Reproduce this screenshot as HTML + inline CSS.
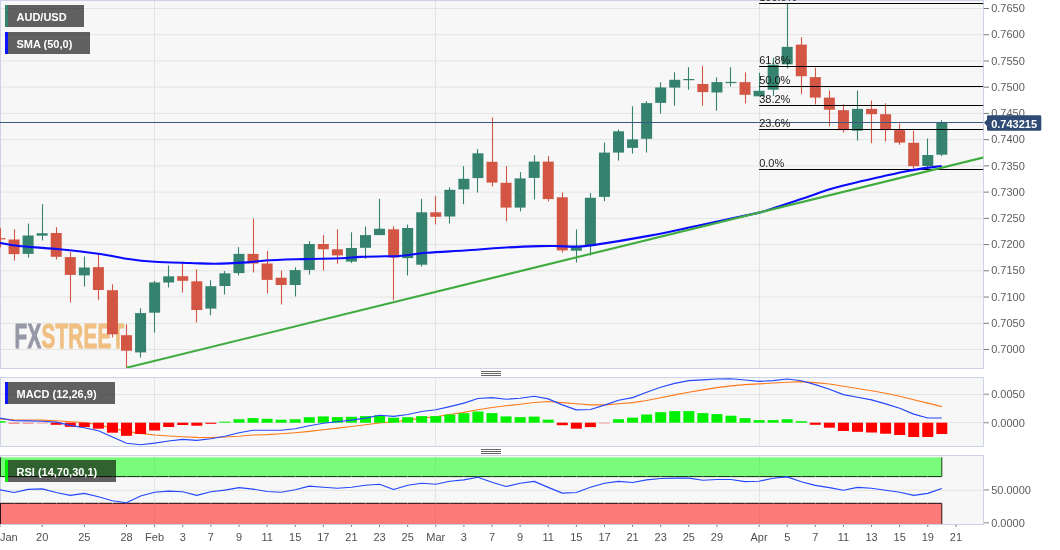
<!DOCTYPE html>
<html lang="en"><head><meta charset="utf-8"><title>AUD/USD daily chart</title>
<style>
html,body{margin:0;padding:0;background:#fff;}
body{width:1060px;height:550px;overflow:hidden;font-family:"Liberation Sans",Arial,sans-serif;}
svg{display:block;}
</style></head><body>
<svg width="1060" height="550" viewBox="0 0 1060 550" font-family="'Liberation Sans', Arial, sans-serif">
<rect width="1060" height="550" fill="#fff"/>
<defs><clipPath id="cm"><rect x="0" y="0" width="983.2" height="368.3"/></clipPath><clipPath id="cd"><rect x="0" y="377" width="984" height="70"/></clipPath><clipPath id="cr"><rect x="0" y="456" width="983" height="68"/></clipPath></defs>
<rect x="0" y="0" width="984" height="369" fill="#cdd3e5"/>
<rect x="1" y="1" width="982" height="367" fill="#f7f7f7"/>
<rect x="0" y="377" width="984" height="70" fill="#cdd3e5"/>
<rect x="1" y="378" width="982" height="68" fill="#f7f7f7"/>
<rect x="0" y="455" width="984" height="70" fill="#cdd3e5"/>
<rect x="1" y="456" width="982" height="68" fill="#f7f7f7"/>
<g stroke="#e4e4e4" stroke-width="1">
<line x1="1" x2="983" y1="8.50" y2="8.50"/>
<line x1="1" x2="983" y1="34.73" y2="34.73"/>
<line x1="1" x2="983" y1="60.96" y2="60.96"/>
<line x1="1" x2="983" y1="87.19" y2="87.19"/>
<line x1="1" x2="983" y1="113.42" y2="113.42"/>
<line x1="1" x2="983" y1="139.65" y2="139.65"/>
<line x1="1" x2="983" y1="165.88" y2="165.88"/>
<line x1="1" x2="983" y1="192.11" y2="192.11"/>
<line x1="1" x2="983" y1="218.34" y2="218.34"/>
<line x1="1" x2="983" y1="244.57" y2="244.57"/>
<line x1="1" x2="983" y1="270.80" y2="270.80"/>
<line x1="1" x2="983" y1="297.03" y2="297.03"/>
<line x1="1" x2="983" y1="323.26" y2="323.26"/>
<line x1="1" x2="983" y1="349.49" y2="349.49"/>
<line x1="1" x2="983" y1="394.5" y2="394.5"/>
<line x1="1" x2="983" y1="422.5" y2="422.5"/>
<line x1="1" x2="983" y1="490.3" y2="490.3"/>
<line x1="154.50" x2="154.50" y1="1" y2="368"/>
<line x1="154.50" x2="154.50" y1="378" y2="446"/>
<line x1="154.50" x2="154.50" y1="456" y2="524"/>
<line x1="435.50" x2="435.50" y1="1" y2="368"/>
<line x1="435.50" x2="435.50" y1="378" y2="446"/>
<line x1="435.50" x2="435.50" y1="456" y2="524"/>
<line x1="759.50" x2="759.50" y1="1" y2="368"/>
<line x1="759.50" x2="759.50" y1="378" y2="446"/>
<line x1="759.50" x2="759.50" y1="456" y2="524"/>
</g>
<g font-weight="bold" font-size="35.6" stroke-width="1.0" stroke-linejoin="round"><text transform="translate(14.6,347.5) scale(0.581,1)" letter-spacing="0.35"><tspan fill="#9698a5" stroke="#9698a5">FX</tspan><tspan fill="#f0bf82" stroke="#f0bf82">STREET</tspan></text></g>
<g clip-path="url(#cm)">
<line x1="0.50" x2="0.50" y1="228.2" y2="247.5" stroke="#d35645" stroke-width="1.1"/>
<rect x="-5.50" y="238.2" width="11" height="1.2" fill="#d35645"/>
<line x1="14.50" x2="14.50" y1="229.2" y2="260.4" stroke="#d35645" stroke-width="1.1"/>
<rect x="8.56" y="239.5" width="11" height="14.6" fill="#d35645"/>
<line x1="28.50" x2="28.50" y1="223.5" y2="257.4" stroke="#35836f" stroke-width="1.1"/>
<rect x="22.61" y="235.5" width="11" height="18.4" fill="#35836f"/>
<line x1="42.50" x2="42.50" y1="204.2" y2="240.5" stroke="#35836f" stroke-width="1.1"/>
<rect x="36.67" y="233.2" width="11" height="2.5" fill="#35836f"/>
<line x1="56.50" x2="56.50" y1="227.2" y2="259.5" stroke="#d35645" stroke-width="1.1"/>
<rect x="50.73" y="233.0" width="11" height="23.8" fill="#d35645"/>
<line x1="70.50" x2="70.50" y1="252.0" y2="302.5" stroke="#d35645" stroke-width="1.1"/>
<rect x="64.79" y="257.1" width="11" height="17.8" fill="#d35645"/>
<line x1="84.50" x2="84.50" y1="256.5" y2="286.4" stroke="#35836f" stroke-width="1.1"/>
<rect x="78.84" y="267.5" width="11" height="7.9" fill="#35836f"/>
<line x1="98.50" x2="98.50" y1="254.3" y2="299.9" stroke="#d35645" stroke-width="1.1"/>
<rect x="92.90" y="267.1" width="11" height="22.9" fill="#d35645"/>
<line x1="112.50" x2="112.50" y1="284.2" y2="337.5" stroke="#d35645" stroke-width="1.1"/>
<rect x="106.96" y="290.2" width="11" height="44.1" fill="#d35645"/>
<line x1="126.50" x2="126.50" y1="324.3" y2="367.7" stroke="#d35645" stroke-width="1.1"/>
<rect x="121.01" y="335.2" width="11" height="15.5" fill="#d35645"/>
<line x1="140.50" x2="140.50" y1="308.2" y2="357.5" stroke="#35836f" stroke-width="1.1"/>
<rect x="135.07" y="313.1" width="11" height="39.3" fill="#35836f"/>
<line x1="154.50" x2="154.50" y1="281.0" y2="332.4" stroke="#35836f" stroke-width="1.1"/>
<rect x="149.13" y="282.4" width="11" height="30.3" fill="#35836f"/>
<line x1="168.50" x2="168.50" y1="265.6" y2="287.5" stroke="#35836f" stroke-width="1.1"/>
<rect x="163.19" y="276.3" width="11" height="6.2" fill="#35836f"/>
<line x1="182.50" x2="182.50" y1="261.5" y2="292.4" stroke="#d35645" stroke-width="1.1"/>
<rect x="177.24" y="276.2" width="11" height="4.6" fill="#d35645"/>
<line x1="196.50" x2="196.50" y1="269.3" y2="322.5" stroke="#d35645" stroke-width="1.1"/>
<rect x="191.30" y="281.3" width="11" height="28.7" fill="#d35645"/>
<line x1="210.50" x2="210.50" y1="280.3" y2="315.3" stroke="#35836f" stroke-width="1.1"/>
<rect x="205.36" y="286.2" width="11" height="22.4" fill="#35836f"/>
<line x1="224.50" x2="224.50" y1="270.9" y2="294.5" stroke="#35836f" stroke-width="1.1"/>
<rect x="219.42" y="273.3" width="11" height="12.7" fill="#35836f"/>
<line x1="238.50" x2="238.50" y1="247.2" y2="275.6" stroke="#35836f" stroke-width="1.1"/>
<rect x="233.47" y="253.9" width="11" height="19.2" fill="#35836f"/>
<line x1="253.50" x2="253.50" y1="218.5" y2="272.4" stroke="#d35645" stroke-width="1.1"/>
<rect x="247.53" y="253.9" width="11" height="9.6" fill="#d35645"/>
<line x1="267.50" x2="267.50" y1="251.0" y2="293.6" stroke="#d35645" stroke-width="1.1"/>
<rect x="261.59" y="263.5" width="11" height="16.4" fill="#d35645"/>
<line x1="281.50" x2="281.50" y1="270.5" y2="304.5" stroke="#d35645" stroke-width="1.1"/>
<rect x="275.64" y="277.7" width="11" height="7.3" fill="#d35645"/>
<line x1="295.50" x2="295.50" y1="267.3" y2="296.4" stroke="#35836f" stroke-width="1.1"/>
<rect x="289.70" y="270.1" width="11" height="14.9" fill="#35836f"/>
<line x1="309.50" x2="309.50" y1="241.2" y2="274.6" stroke="#35836f" stroke-width="1.1"/>
<rect x="303.76" y="244.0" width="11" height="25.9" fill="#35836f"/>
<line x1="323.50" x2="323.50" y1="235.1" y2="270.5" stroke="#d35645" stroke-width="1.1"/>
<rect x="317.82" y="244.0" width="11" height="5.3" fill="#d35645"/>
<line x1="337.50" x2="337.50" y1="229.3" y2="263.7" stroke="#d35645" stroke-width="1.1"/>
<rect x="331.87" y="249.3" width="11" height="6.1" fill="#d35645"/>
<line x1="351.50" x2="351.50" y1="232.3" y2="262.9" stroke="#35836f" stroke-width="1.1"/>
<rect x="345.93" y="248.0" width="11" height="13.6" fill="#35836f"/>
<line x1="365.50" x2="365.50" y1="226.4" y2="258.8" stroke="#35836f" stroke-width="1.1"/>
<rect x="359.99" y="235.1" width="11" height="12.7" fill="#35836f"/>
<line x1="379.50" x2="379.50" y1="198.9" y2="235.1" stroke="#35836f" stroke-width="1.1"/>
<rect x="374.04" y="228.7" width="11" height="6.4" fill="#35836f"/>
<line x1="393.50" x2="393.50" y1="226.3" y2="300.3" stroke="#d35645" stroke-width="1.1"/>
<rect x="388.10" y="229.3" width="11" height="28.2" fill="#d35645"/>
<line x1="407.50" x2="407.50" y1="224.6" y2="275.4" stroke="#35836f" stroke-width="1.1"/>
<rect x="402.16" y="228.0" width="11" height="30.1" fill="#35836f"/>
<line x1="421.50" x2="421.50" y1="198.9" y2="266.6" stroke="#35836f" stroke-width="1.1"/>
<rect x="416.22" y="212.3" width="11" height="52.4" fill="#35836f"/>
<line x1="435.50" x2="435.50" y1="196.1" y2="224.4" stroke="#d35645" stroke-width="1.1"/>
<rect x="430.27" y="212.3" width="11" height="4.5" fill="#d35645"/>
<line x1="449.50" x2="449.50" y1="187.3" y2="223.6" stroke="#35836f" stroke-width="1.1"/>
<rect x="444.33" y="189.8" width="11" height="26.7" fill="#35836f"/>
<line x1="463.50" x2="463.50" y1="166.2" y2="204.2" stroke="#35836f" stroke-width="1.1"/>
<rect x="458.39" y="178.8" width="11" height="10.6" fill="#35836f"/>
<line x1="477.50" x2="477.50" y1="149.1" y2="192.5" stroke="#35836f" stroke-width="1.1"/>
<rect x="472.44" y="153.3" width="11" height="24.8" fill="#35836f"/>
<line x1="492.50" x2="492.50" y1="117.4" y2="186.6" stroke="#d35645" stroke-width="1.1"/>
<rect x="486.50" y="161.8" width="11" height="20.8" fill="#d35645"/>
<line x1="506.50" x2="506.50" y1="166.2" y2="221.2" stroke="#d35645" stroke-width="1.1"/>
<rect x="500.56" y="182.8" width="11" height="24.8" fill="#d35645"/>
<line x1="520.50" x2="520.50" y1="172.2" y2="211.4" stroke="#35836f" stroke-width="1.1"/>
<rect x="514.62" y="178.4" width="11" height="29.2" fill="#35836f"/>
<line x1="534.50" x2="534.50" y1="155.2" y2="199.4" stroke="#35836f" stroke-width="1.1"/>
<rect x="528.67" y="161.6" width="11" height="16.3" fill="#35836f"/>
<line x1="548.50" x2="548.50" y1="156.1" y2="201.4" stroke="#d35645" stroke-width="1.1"/>
<rect x="542.73" y="161.6" width="11" height="37.5" fill="#d35645"/>
<line x1="562.50" x2="562.50" y1="192.4" y2="252.5" stroke="#d35645" stroke-width="1.1"/>
<rect x="556.79" y="197.3" width="11" height="53.1" fill="#d35645"/>
<line x1="576.50" x2="576.50" y1="229.4" y2="262.6" stroke="#35836f" stroke-width="1.1"/>
<rect x="570.85" y="247.0" width="11" height="3.7" fill="#35836f"/>
<line x1="590.50" x2="590.50" y1="193.1" y2="255.5" stroke="#35836f" stroke-width="1.1"/>
<rect x="584.90" y="197.8" width="11" height="48.2" fill="#35836f"/>
<line x1="604.50" x2="604.50" y1="142.6" y2="201.2" stroke="#35836f" stroke-width="1.1"/>
<rect x="598.96" y="152.6" width="11" height="44.3" fill="#35836f"/>
<line x1="618.50" x2="618.50" y1="129.4" y2="160.6" stroke="#35836f" stroke-width="1.1"/>
<rect x="613.02" y="131.3" width="11" height="21.3" fill="#35836f"/>
<line x1="632.50" x2="632.50" y1="106.3" y2="153.6" stroke="#35836f" stroke-width="1.1"/>
<rect x="627.07" y="139.4" width="11" height="8.5" fill="#35836f"/>
<line x1="646.50" x2="646.50" y1="101.0" y2="152.6" stroke="#35836f" stroke-width="1.1"/>
<rect x="641.13" y="103.1" width="11" height="35.7" fill="#35836f"/>
<line x1="660.50" x2="660.50" y1="82.3" y2="113.5" stroke="#35836f" stroke-width="1.1"/>
<rect x="655.19" y="87.4" width="11" height="15.5" fill="#35836f"/>
<line x1="674.50" x2="674.50" y1="72.3" y2="105.7" stroke="#35836f" stroke-width="1.1"/>
<rect x="669.25" y="79.8" width="11" height="7.8" fill="#35836f"/>
<line x1="688.50" x2="688.50" y1="67.2" y2="89.7" stroke="#35836f" stroke-width="1.1"/>
<rect x="683.30" y="79.0" width="11" height="1.2" fill="#35836f"/>
<line x1="702.50" x2="702.50" y1="65.7" y2="105.7" stroke="#d35645" stroke-width="1.1"/>
<rect x="697.36" y="84.0" width="11" height="8.1" fill="#d35645"/>
<line x1="716.50" x2="716.50" y1="77.4" y2="110.7" stroke="#35836f" stroke-width="1.1"/>
<rect x="711.42" y="82.1" width="11" height="10.4" fill="#35836f"/>
<line x1="730.50" x2="730.50" y1="67.2" y2="86.5" stroke="#35836f" stroke-width="1.1"/>
<rect x="725.47" y="81.9" width="11" height="1.2" fill="#35836f"/>
<line x1="745.50" x2="745.50" y1="72.3" y2="103.5" stroke="#d35645" stroke-width="1.1"/>
<rect x="739.53" y="82.1" width="11" height="12.7" fill="#d35645"/>
<line x1="759.50" x2="759.50" y1="72.8" y2="96.3" stroke="#35836f" stroke-width="1.1"/>
<rect x="753.59" y="90.8" width="11" height="5.5" fill="#35836f"/>
<line x1="773.50" x2="773.50" y1="57.7" y2="96.0" stroke="#35836f" stroke-width="1.1"/>
<rect x="767.65" y="64.7" width="11" height="25.0" fill="#35836f"/>
<line x1="787.50" x2="787.50" y1="3.4" y2="68.4" stroke="#35836f" stroke-width="1.1"/>
<rect x="781.70" y="46.9" width="11" height="17.4" fill="#35836f"/>
<line x1="801.50" x2="801.50" y1="37.2" y2="94.2" stroke="#d35645" stroke-width="1.1"/>
<rect x="795.76" y="44.6" width="11" height="31.6" fill="#d35645"/>
<line x1="815.50" x2="815.50" y1="67.7" y2="104.6" stroke="#d35645" stroke-width="1.1"/>
<rect x="809.82" y="77.1" width="11" height="20.5" fill="#d35645"/>
<line x1="829.50" x2="829.50" y1="90.4" y2="126.3" stroke="#d35645" stroke-width="1.1"/>
<rect x="823.87" y="97.6" width="11" height="12.1" fill="#d35645"/>
<line x1="843.50" x2="843.50" y1="104.2" y2="132.4" stroke="#d35645" stroke-width="1.1"/>
<rect x="837.93" y="110.2" width="11" height="19.9" fill="#d35645"/>
<line x1="857.50" x2="857.50" y1="90.4" y2="140.5" stroke="#35836f" stroke-width="1.1"/>
<rect x="851.99" y="108.9" width="11" height="21.8" fill="#35836f"/>
<line x1="871.50" x2="871.50" y1="100.4" y2="143.3" stroke="#d35645" stroke-width="1.1"/>
<rect x="866.05" y="108.9" width="11" height="5.3" fill="#d35645"/>
<line x1="885.50" x2="885.50" y1="103.3" y2="141.4" stroke="#d35645" stroke-width="1.1"/>
<rect x="880.10" y="114.2" width="11" height="15.9" fill="#d35645"/>
<line x1="899.50" x2="899.50" y1="123.5" y2="144.7" stroke="#d35645" stroke-width="1.1"/>
<rect x="894.16" y="130.1" width="11" height="12.5" fill="#d35645"/>
<line x1="913.50" x2="913.50" y1="130.5" y2="169.0" stroke="#d35645" stroke-width="1.1"/>
<rect x="908.22" y="142.8" width="11" height="23.4" fill="#d35645"/>
<line x1="927.50" x2="927.50" y1="138.6" y2="168.5" stroke="#35836f" stroke-width="1.1"/>
<rect x="922.28" y="155.0" width="11" height="11.0" fill="#35836f"/>
<line x1="941.50" x2="941.50" y1="120.3" y2="156.0" stroke="#35836f" stroke-width="1.1"/>
<rect x="936.33" y="123.0" width="11" height="31.7" fill="#35836f"/>
<line x1="0" x2="984" y1="122.5" y2="122.5" stroke="#3b5880" stroke-width="1.2"/>
<line x1="759.2" x2="984" y1="3.5" y2="3.5" stroke="#000" stroke-width="1.1"/>
<text x="759.2" y="0.8" font-size="11" fill="#1a1a1a">100.0%</text>
<line x1="759.2" x2="984" y1="66.5" y2="66.5" stroke="#000" stroke-width="1.1"/>
<text x="759.2" y="63.8" font-size="11" fill="#1a1a1a">61.8%</text>
<line x1="759.2" x2="984" y1="86.5" y2="86.5" stroke="#000" stroke-width="1.1"/>
<text x="759.2" y="83.8" font-size="11" fill="#1a1a1a">50.0%</text>
<line x1="759.2" x2="984" y1="105.5" y2="105.5" stroke="#000" stroke-width="1.1"/>
<text x="759.2" y="102.8" font-size="11" fill="#1a1a1a">38.2%</text>
<line x1="759.2" x2="984" y1="129.5" y2="129.5" stroke="#000" stroke-width="1.1"/>
<text x="759.2" y="126.8" font-size="11" fill="#1a1a1a">23.6%</text>
<line x1="759.2" x2="984" y1="169.5" y2="169.5" stroke="#000" stroke-width="1.1"/>
<text x="759.2" y="166.8" font-size="11" fill="#1a1a1a">0.0%</text>
<path d="M0.0,242.9 C3.1,243.4 9.4,245.0 18.9,246.0 C28.4,247.0 43.5,247.7 56.7,249.0 C69.9,250.3 86.3,252.0 98.3,253.7 C110.3,255.4 119.1,257.6 128.5,259.0 C137.9,260.4 144.3,261.1 154.6,261.8 C164.8,262.5 179.9,262.7 190.0,263.0 C200.1,263.3 205.5,263.9 215.0,263.8 C224.5,263.7 238.6,262.9 247.0,262.4 C255.4,261.8 256.3,261.1 265.6,260.5 C274.9,259.9 290.4,259.5 303.0,259.1 C315.6,258.7 331.5,258.6 341.0,258.2 C350.5,257.8 352.7,257.2 360.0,256.9 C367.3,256.6 378.3,256.4 385.0,256.3 C391.7,256.2 393.1,256.6 400.0,256.0 C406.9,255.4 415.9,253.7 426.7,252.8 C437.4,251.9 451.9,251.3 464.5,250.5 C477.1,249.7 489.4,248.4 502.0,247.7 C514.6,247.0 530.7,246.4 540.0,246.1 C549.3,245.8 552.0,246.0 558.0,246.1 C564.0,246.2 570.2,246.8 576.0,246.6 C581.8,246.4 580.7,246.9 593.0,245.1 C605.3,243.3 632.2,238.9 650.0,235.6 C667.8,232.3 682.2,228.9 700.0,225.2 C717.8,221.4 745.5,215.7 757.0,213.1 C768.5,210.5 763.8,211.3 768.9,209.7 C774.0,208.1 781.5,205.6 787.8,203.5 C794.1,201.4 800.4,199.5 806.7,197.3 C813.0,195.2 819.3,192.6 825.6,190.6 C831.9,188.6 838.2,186.9 844.5,185.3 C850.8,183.7 857.1,182.3 863.4,180.8 C869.7,179.3 876.0,177.9 882.3,176.5 C888.6,175.1 894.9,173.6 901.2,172.3 C907.5,171.0 913.3,170.0 920.1,168.9 C926.9,167.8 938.2,166.5 941.8,166.0" fill="none" stroke="#0a0aff" stroke-width="2.1" stroke-linejoin="round"/>
<line x1="126.5" y1="367.8" x2="984" y2="157.3" stroke="#40ac40" stroke-width="2.1"/>
</g>
<g clip-path="url(#cd)">
<polyline points="0.0,418.8 14.1,419.9 28.1,420.0 42.2,420.1 56.2,420.8 70.3,421.7 84.3,422.5 98.4,424.8 112.5,428.1 126.5,431.4 140.6,433.4 154.6,435.0 168.7,436.0 182.7,436.7 196.8,437.4 210.9,437.6 224.9,437.0 239.0,436.3 253.0,435.0 267.1,434.6 281.1,433.8 295.2,432.7 309.3,431.4 323.3,429.8 337.4,428.1 351.4,426.5 365.5,424.8 379.5,423.0 393.6,421.7 407.7,420.1 421.7,418.1 435.8,416.8 449.8,414.5 463.9,412.4 477.9,409.8 492.0,407.5 506.1,405.8 520.1,404.2 534.2,402.5 548.2,401.5 562.3,402.6 576.3,403.8 590.4,404.9 604.5,404.9 618.5,403.8 632.6,402.6 646.6,400.5 660.7,397.8 674.7,394.9 688.8,392.3 702.9,389.9 716.9,387.6 731.0,385.9 745.0,384.6 759.1,383.9 773.1,383.0 787.2,382.2 801.3,381.6 815.3,382.6 829.4,384.0 843.4,386.3 857.5,388.5 871.5,390.7 885.6,393.2 899.7,396.2 913.7,399.8 927.8,403.1 941.8,406.6" fill="none" stroke="#ff7a1a" stroke-width="1.15" stroke-linejoin="round"/>
<rect x="-5.50" y="421.2" width="11" height="1.5" fill="#00f000" opacity="1"/>
<rect x="8.56" y="422.7" width="11" height="1.0" fill="#ff0000" opacity="0.6"/>
<rect x="22.61" y="422.7" width="11" height="1.0" fill="#ff0000" opacity="0.5"/>
<rect x="36.67" y="422.7" width="11" height="1.0" fill="#ff0000" opacity="0.3"/>
<rect x="50.73" y="422.7" width="11" height="2.1" fill="#ff0000" opacity="1"/>
<rect x="64.79" y="422.7" width="11" height="4.1" fill="#ff0000" opacity="1"/>
<rect x="78.84" y="422.7" width="11" height="4.4" fill="#ff0000" opacity="1"/>
<rect x="92.90" y="422.7" width="11" height="6.0" fill="#ff0000" opacity="1"/>
<rect x="106.96" y="422.7" width="11" height="10.0" fill="#ff0000" opacity="1"/>
<rect x="121.01" y="422.7" width="11" height="13.1" fill="#ff0000" opacity="1"/>
<rect x="135.07" y="422.7" width="11" height="11.3" fill="#ff0000" opacity="1"/>
<rect x="149.13" y="422.7" width="11" height="7.8" fill="#ff0000" opacity="1"/>
<rect x="163.19" y="422.7" width="11" height="4.3" fill="#ff0000" opacity="1"/>
<rect x="177.24" y="422.7" width="11" height="2.3" fill="#ff0000" opacity="1"/>
<rect x="191.30" y="422.7" width="11" height="3.0" fill="#ff0000" opacity="1"/>
<rect x="205.36" y="422.7" width="11" height="1.1" fill="#ff0000" opacity="1"/>
<rect x="219.42" y="421.7" width="11" height="1.0" fill="#00f000" opacity="1"/>
<rect x="233.47" y="419.2" width="11" height="3.5" fill="#00f000" opacity="1"/>
<rect x="247.53" y="418.1" width="11" height="4.6" fill="#00f000" opacity="1"/>
<rect x="261.59" y="418.8" width="11" height="3.9" fill="#00f000" opacity="1"/>
<rect x="275.64" y="419.7" width="11" height="3.0" fill="#00f000" opacity="1"/>
<rect x="289.70" y="419.2" width="11" height="3.5" fill="#00f000" opacity="1"/>
<rect x="303.76" y="417.2" width="11" height="5.5" fill="#00f000" opacity="1"/>
<rect x="317.82" y="416.4" width="11" height="6.3" fill="#00f000" opacity="1"/>
<rect x="331.87" y="417.1" width="11" height="5.6" fill="#00f000" opacity="1"/>
<rect x="345.93" y="416.8" width="11" height="5.9" fill="#00f000" opacity="1"/>
<rect x="359.99" y="416.1" width="11" height="6.6" fill="#00f000" opacity="1"/>
<rect x="374.04" y="415.5" width="11" height="7.2" fill="#00f000" opacity="1"/>
<rect x="388.10" y="417.7" width="11" height="5.0" fill="#00f000" opacity="1"/>
<rect x="402.16" y="417.2" width="11" height="5.5" fill="#00f000" opacity="1"/>
<rect x="416.22" y="416.1" width="11" height="6.6" fill="#00f000" opacity="1"/>
<rect x="430.27" y="416.1" width="11" height="6.6" fill="#00f000" opacity="1"/>
<rect x="444.33" y="414.5" width="11" height="8.2" fill="#00f000" opacity="1"/>
<rect x="458.39" y="413.2" width="11" height="9.5" fill="#00f000" opacity="1"/>
<rect x="472.44" y="411.5" width="11" height="11.2" fill="#00f000" opacity="1"/>
<rect x="486.50" y="413.1" width="11" height="9.6" fill="#00f000" opacity="1"/>
<rect x="500.56" y="416.4" width="11" height="6.3" fill="#00f000" opacity="1"/>
<rect x="514.62" y="417.1" width="11" height="5.6" fill="#00f000" opacity="1"/>
<rect x="528.67" y="416.6" width="11" height="6.1" fill="#00f000" opacity="1"/>
<rect x="542.73" y="419.7" width="11" height="3.0" fill="#00f000" opacity="1"/>
<rect x="556.79" y="422.7" width="11" height="2.5" fill="#ff0000" opacity="1"/>
<rect x="570.85" y="422.7" width="11" height="6.0" fill="#ff0000" opacity="1"/>
<rect x="584.90" y="422.7" width="11" height="4.4" fill="#ff0000" opacity="1"/>
<rect x="598.96" y="422.7" width="11" height="1.0" fill="#ff0000" opacity="0.3"/>
<rect x="613.02" y="419.2" width="11" height="3.5" fill="#00f000" opacity="1"/>
<rect x="627.07" y="417.7" width="11" height="5.0" fill="#00f000" opacity="1"/>
<rect x="641.13" y="414.5" width="11" height="8.2" fill="#00f000" opacity="1"/>
<rect x="655.19" y="412.2" width="11" height="10.5" fill="#00f000" opacity="1"/>
<rect x="669.25" y="411.1" width="11" height="11.6" fill="#00f000" opacity="1"/>
<rect x="683.30" y="411.1" width="11" height="11.6" fill="#00f000" opacity="1"/>
<rect x="697.36" y="413.1" width="11" height="9.6" fill="#00f000" opacity="1"/>
<rect x="711.42" y="414.1" width="11" height="8.6" fill="#00f000" opacity="1"/>
<rect x="725.47" y="415.7" width="11" height="7.0" fill="#00f000" opacity="1"/>
<rect x="739.53" y="418.1" width="11" height="4.6" fill="#00f000" opacity="1"/>
<rect x="753.59" y="420.1" width="11" height="2.6" fill="#00f000" opacity="1"/>
<rect x="767.65" y="420.1" width="11" height="2.6" fill="#00f000" opacity="1"/>
<rect x="781.70" y="419.2" width="11" height="3.5" fill="#00f000" opacity="1"/>
<rect x="795.76" y="421.2" width="11" height="1.5" fill="#00f000" opacity="1"/>
<rect x="809.82" y="422.7" width="11" height="2.1" fill="#ff0000" opacity="1"/>
<rect x="823.87" y="422.7" width="11" height="5.0" fill="#ff0000" opacity="1"/>
<rect x="837.93" y="422.7" width="11" height="8.3" fill="#ff0000" opacity="1"/>
<rect x="851.99" y="422.7" width="11" height="9.1" fill="#ff0000" opacity="1"/>
<rect x="866.05" y="422.7" width="11" height="9.8" fill="#ff0000" opacity="1"/>
<rect x="880.10" y="422.7" width="11" height="11.0" fill="#ff0000" opacity="1"/>
<rect x="894.16" y="422.7" width="11" height="12.3" fill="#ff0000" opacity="1"/>
<rect x="908.22" y="422.7" width="11" height="14.3" fill="#ff0000" opacity="1"/>
<rect x="922.28" y="422.7" width="11" height="14.3" fill="#ff0000" opacity="1"/>
<rect x="936.33" y="422.7" width="11" height="11.3" fill="#ff0000" opacity="1"/>
<polyline points="0.0,418.1 14.1,420.8 28.1,420.9 42.2,421.2 56.2,422.1 70.3,425.4 84.3,427.8 98.4,430.7 112.5,437.0 126.5,443.3 140.6,444.7 154.6,443.1 168.7,441.0 182.7,439.4 196.8,440.4 210.9,438.7 224.9,436.3 239.0,432.7 253.0,430.3 267.1,430.2 281.1,430.3 295.2,428.7 309.3,425.7 323.3,423.2 337.4,421.8 351.4,420.1 365.5,418.1 379.5,415.2 393.6,416.4 407.7,414.5 421.7,411.5 435.8,409.8 449.8,406.6 463.9,403.1 477.9,398.5 492.0,397.6 506.1,399.3 520.1,398.3 534.2,396.2 548.2,398.9 562.3,404.9 576.3,409.9 590.4,409.5 604.5,405.1 618.5,400.2 632.6,397.6 646.6,392.3 660.7,387.3 674.7,383.4 688.8,380.6 702.9,379.9 716.9,379.0 731.0,378.7 745.0,380.0 759.1,381.4 773.1,380.6 787.2,379.0 801.3,380.7 815.3,384.6 829.4,389.3 843.4,394.6 857.5,397.2 871.5,399.9 885.6,403.9 899.7,408.2 913.7,414.1 927.8,418.0 941.8,418.0" fill="none" stroke="#2448ff" stroke-width="1.15" stroke-linejoin="round"/>
</g>
<g clip-path="url(#cr)">
<rect x="0.5" y="457.3" width="941.3" height="19.3" fill="rgba(0,255,0,0.5)"/>
<rect x="0.5" y="503.3" width="941.3" height="21" fill="rgba(255,0,0,0.5)"/>
<path d="M0.25,476.6 H941.8" fill="none" stroke="#0b2a0b" stroke-width="1" stroke-dasharray="13.657 0.4"/>
<path d="M0.5,457.3 V476.6 M941.8,476.6 V457.3" fill="none" stroke="#0b2a0b" stroke-width="0.9"/>
<path d="M0.25,503.3 H941.8" fill="none" stroke="#1a0505" stroke-width="1" stroke-dasharray="13.657 0.4"/>
<path d="M0.5,525 V503.3 M941.8,503.3 V525" fill="none" stroke="#1a0505" stroke-width="0.9"/>
<polyline points="0.0,489.8 14.1,492.5 28.1,489.4 42.2,488.9 56.2,492.5 70.3,495.4 84.3,493.4 98.4,496.7 112.5,500.8 126.5,502.7 140.6,496.0 154.6,492.2 168.7,491.1 182.7,491.8 196.8,495.4 210.9,491.8 224.9,490.1 239.0,487.6 253.0,489.1 267.1,491.5 281.1,492.2 295.2,489.8 309.3,486.1 323.3,487.2 337.4,488.2 351.4,487.2 365.5,485.2 379.5,484.2 393.6,489.5 407.7,485.2 421.7,483.2 435.8,484.2 449.8,481.2 463.9,479.9 477.9,477.2 492.0,482.2 506.1,486.5 520.1,483.2 534.2,481.4 548.2,487.4 562.3,493.1 576.3,492.5 590.4,487.2 604.5,483.2 618.5,481.4 632.6,482.5 646.6,479.9 660.7,478.5 674.7,478.1 688.8,478.1 702.9,480.3 716.9,479.5 731.0,479.5 745.0,481.6 759.1,481.2 773.1,478.3 787.2,476.9 801.3,481.8 815.3,485.4 829.4,487.6 843.4,490.2 857.5,487.4 871.5,488.2 885.6,490.2 899.7,492.2 913.7,495.4 927.8,493.4 941.8,488.5" fill="none" stroke="#2448ff" stroke-width="1.15" stroke-linejoin="round"/>
</g>
<rect x="5" y="5" width="79" height="22" fill="rgba(0,0,0,0.61)"/>
<rect x="5" y="5" width="3" height="22" fill="#35836f"/>
<text x="16.5" y="21" font-size="11" font-weight="bold" fill="#fff">AUD/USD</text>
<rect x="5" y="32" width="85" height="22" fill="rgba(0,0,0,0.61)"/>
<rect x="5" y="32" width="3" height="22" fill="#0a14ff"/>
<text x="16.5" y="48" font-size="11" font-weight="bold" fill="#fff">SMA (50,0)</text>
<rect x="5" y="382" width="110" height="22" fill="rgba(0,0,0,0.61)"/>
<rect x="5" y="382" width="3" height="22" fill="#0a14ff"/>
<text x="16.5" y="398" font-size="11" font-weight="bold" fill="#fff">MACD (12,26,9)</text>
<rect x="5" y="460" width="111" height="22" fill="rgba(0,0,0,0.61)"/>
<rect x="5" y="460" width="3" height="22" fill="#00f000"/>
<text x="16.5" y="476" font-size="11" font-weight="bold" fill="#fff">RSI (14,70,30,1)</text>
<rect x="481" y="371" width="20" height="1" fill="#666"/>
<rect x="481" y="373" width="20" height="1" fill="#666"/>
<rect x="481" y="375" width="20" height="1" fill="#666"/>
<rect x="481" y="449" width="20" height="1" fill="#666"/>
<rect x="481" y="451" width="20" height="1" fill="#666"/>
<rect x="481" y="453" width="20" height="1" fill="#666"/>
<g font-size="11" fill="#5c5c5c">
<rect x="984" y="8.00" width="5" height="1" fill="#7a7a7a"/>
<text x="991.2" y="12.1">0.7650</text>
<rect x="984" y="34.23" width="5" height="1" fill="#7a7a7a"/>
<text x="991.2" y="38.3">0.7600</text>
<rect x="984" y="60.46" width="5" height="1" fill="#7a7a7a"/>
<text x="991.2" y="64.6">0.7550</text>
<rect x="984" y="86.69" width="5" height="1" fill="#7a7a7a"/>
<text x="991.2" y="90.8">0.7500</text>
<rect x="984" y="112.92" width="5" height="1" fill="#7a7a7a"/>
<text x="991.2" y="117.0">0.7450</text>
<rect x="984" y="139.15" width="5" height="1" fill="#7a7a7a"/>
<text x="991.2" y="143.2">0.7400</text>
<rect x="984" y="165.38" width="5" height="1" fill="#7a7a7a"/>
<text x="991.2" y="169.5">0.7350</text>
<rect x="984" y="191.61" width="5" height="1" fill="#7a7a7a"/>
<text x="991.2" y="195.7">0.7300</text>
<rect x="984" y="217.84" width="5" height="1" fill="#7a7a7a"/>
<text x="991.2" y="221.9">0.7250</text>
<rect x="984" y="244.07" width="5" height="1" fill="#7a7a7a"/>
<text x="991.2" y="248.2">0.7200</text>
<rect x="984" y="270.30" width="5" height="1" fill="#7a7a7a"/>
<text x="991.2" y="274.4">0.7150</text>
<rect x="984" y="296.53" width="5" height="1" fill="#7a7a7a"/>
<text x="991.2" y="300.6">0.7100</text>
<rect x="984" y="322.76" width="5" height="1" fill="#7a7a7a"/>
<text x="991.2" y="326.9">0.7050</text>
<rect x="984" y="348.99" width="5" height="1" fill="#7a7a7a"/>
<text x="991.2" y="353.1">0.7000</text>
<rect x="984" y="393.50" width="5" height="1.6" fill="#b0b0b0"/>
<text x="991.2" y="398.4">0.0050</text>
<rect x="984" y="421.80" width="5" height="1.6" fill="#b0b0b0"/>
<text x="991.2" y="426.7">0.0000</text>
<rect x="984" y="489.10" width="5" height="1.6" fill="#b0b0b0"/>
<text x="991.2" y="494.0">50.0000</text>
<rect x="984" y="521.90" width="5" height="1.6" fill="#b0b0b0"/>
<text x="991.2" y="526.8">0.0000</text>
</g>
<path d="M984,122.7 L987,119.5 L987,116.5 Q987,115.2 988.3,115.2 L1040,115.2 Q1041.3,115.2 1041.3,116.5 L1041.3,129.4 Q1041.3,130.7 1040,130.7 L988.3,130.7 Q987,130.7 987,129.4 L987,125.9 Z" fill="#2f4b74"/>
<text x="991.2" y="127.9" font-size="11" font-weight="bold" fill="#fff">0.743215</text>
<g font-size="11" fill="#505050">
<rect x="-0.50" y="525" width="1" height="1.8" fill="#666"/>
<text x="0" y="541">Jan</text>
<rect x="41.67" y="525" width="1" height="1.8" fill="#666"/>
<text x="42.2" y="541" text-anchor="middle">20</text>
<rect x="83.84" y="525" width="1" height="1.8" fill="#666"/>
<text x="84.3" y="541" text-anchor="middle">25</text>
<rect x="126.01" y="525" width="1" height="1.8" fill="#666"/>
<text x="126.5" y="541" text-anchor="middle">28</text>
<rect x="154.13" y="525" width="1" height="1.8" fill="#666"/>
<text x="154.6" y="541" text-anchor="middle">Feb</text>
<rect x="182.24" y="525" width="1" height="1.8" fill="#666"/>
<text x="182.7" y="541" text-anchor="middle">3</text>
<rect x="210.36" y="525" width="1" height="1.8" fill="#666"/>
<text x="210.9" y="541" text-anchor="middle">7</text>
<rect x="238.47" y="525" width="1" height="1.8" fill="#666"/>
<text x="239.0" y="541" text-anchor="middle">9</text>
<rect x="266.59" y="525" width="1" height="1.8" fill="#666"/>
<text x="267.1" y="541" text-anchor="middle">11</text>
<rect x="294.70" y="525" width="1" height="1.8" fill="#666"/>
<text x="295.2" y="541" text-anchor="middle">15</text>
<rect x="322.82" y="525" width="1" height="1.8" fill="#666"/>
<text x="323.3" y="541" text-anchor="middle">17</text>
<rect x="350.93" y="525" width="1" height="1.8" fill="#666"/>
<text x="351.4" y="541" text-anchor="middle">21</text>
<rect x="379.04" y="525" width="1" height="1.8" fill="#666"/>
<text x="379.5" y="541" text-anchor="middle">23</text>
<rect x="407.16" y="525" width="1" height="1.8" fill="#666"/>
<text x="407.7" y="541" text-anchor="middle">25</text>
<rect x="435.27" y="525" width="1" height="1.8" fill="#666"/>
<text x="435.8" y="541" text-anchor="middle">Mar</text>
<rect x="463.39" y="525" width="1" height="1.8" fill="#666"/>
<text x="463.9" y="541" text-anchor="middle">3</text>
<rect x="491.50" y="525" width="1" height="1.8" fill="#666"/>
<text x="492.0" y="541" text-anchor="middle">7</text>
<rect x="519.62" y="525" width="1" height="1.8" fill="#666"/>
<text x="520.1" y="541" text-anchor="middle">9</text>
<rect x="547.73" y="525" width="1" height="1.8" fill="#666"/>
<text x="548.2" y="541" text-anchor="middle">11</text>
<rect x="575.85" y="525" width="1" height="1.8" fill="#666"/>
<text x="576.3" y="541" text-anchor="middle">15</text>
<rect x="603.96" y="525" width="1" height="1.8" fill="#666"/>
<text x="604.5" y="541" text-anchor="middle">17</text>
<rect x="632.07" y="525" width="1" height="1.8" fill="#666"/>
<text x="632.6" y="541" text-anchor="middle">21</text>
<rect x="660.19" y="525" width="1" height="1.8" fill="#666"/>
<text x="660.7" y="541" text-anchor="middle">23</text>
<rect x="688.30" y="525" width="1" height="1.8" fill="#666"/>
<text x="688.8" y="541" text-anchor="middle">25</text>
<rect x="716.42" y="525" width="1" height="1.8" fill="#666"/>
<text x="716.9" y="541" text-anchor="middle">29</text>
<rect x="758.59" y="525" width="1" height="1.8" fill="#666"/>
<text x="759.1" y="541" text-anchor="middle">Apr</text>
<rect x="786.70" y="525" width="1" height="1.8" fill="#666"/>
<text x="787.2" y="541" text-anchor="middle">5</text>
<rect x="814.82" y="525" width="1" height="1.8" fill="#666"/>
<text x="815.3" y="541" text-anchor="middle">7</text>
<rect x="842.93" y="525" width="1" height="1.8" fill="#666"/>
<text x="843.4" y="541" text-anchor="middle">11</text>
<rect x="871.05" y="525" width="1" height="1.8" fill="#666"/>
<text x="871.5" y="541" text-anchor="middle">13</text>
<rect x="899.16" y="525" width="1" height="1.8" fill="#666"/>
<text x="899.7" y="541" text-anchor="middle">15</text>
<rect x="927.28" y="525" width="1" height="1.8" fill="#666"/>
<text x="927.8" y="541" text-anchor="middle">19</text>
<rect x="955.39" y="525" width="1" height="1.8" fill="#666"/>
<text x="955.9" y="541" text-anchor="middle">21</text>
</g>
</svg>
</body></html>
